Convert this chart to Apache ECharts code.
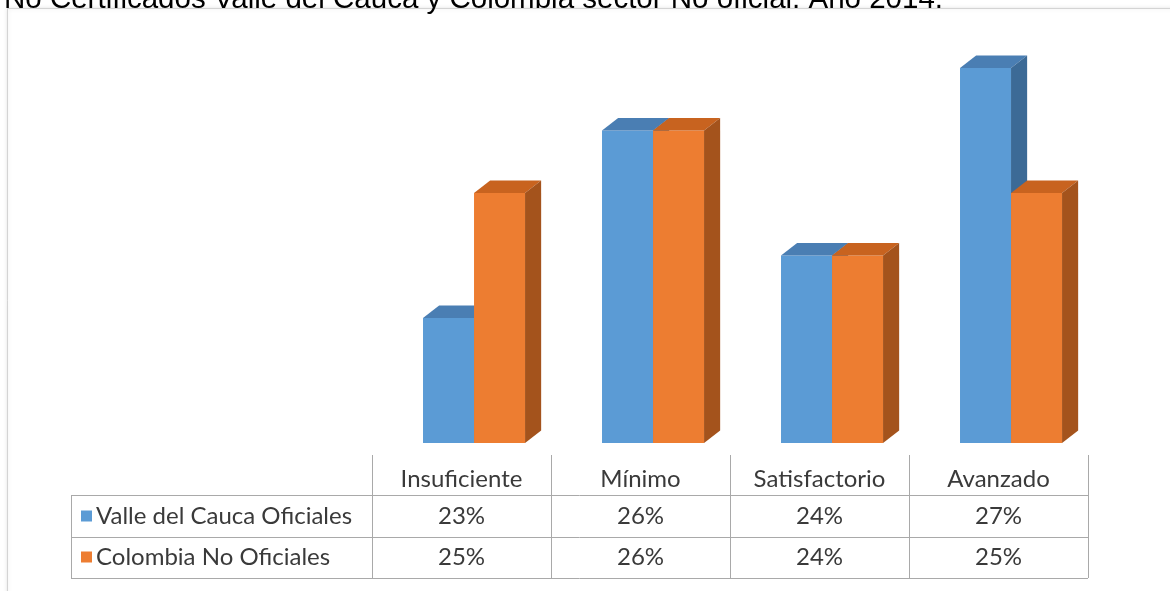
<!DOCTYPE html>
<html><head><meta charset="utf-8">
<script src="https://cdn.jsdelivr.net/npm/echarts@6/dist/echarts.min.js"></script>
<style>html,body{margin:0;padding:0;background:#fff;} #c{width:1170px;height:591px;}</style>
</head><body><div id="c"></div>
<script>
const titleText = 'No Certificados Valle del Cauca y Colombia sector No oficial. Año 2014.';
const categories = ['Insuficiente', 'Mínimo', 'Satisfactorio', 'Avanzado'];
const seriesNames = ['Valle del Cauca Oficiales', 'Colombia No Oficiales'];
const valleValues = [23, 26, 24, 27];
const colombiaValues = [25, 26, 24, 25];
const axisMin = 21, axisMax = 28;

const palette = [
  {front: '#5B9BD5', top: '#4A7EB3', side: '#3C6A96'},
  {front: '#ED7D31', top: '#C8631F', side: '#A4531C'}
];

function renderBar(seriesIdx) {
  return function (params, api) {
    const cat = api.value(0), val = api.value(1);
    const topPt = api.coord([cat, val]);
    const basePt = api.coord([cat, axisMin]);
    const band = api.size([1, 0])[0];
    const w = band * 0.285;
    const shift = band * 0.07;
    const dx = band * 0.09, dy = band * 0.07;
    const x0 = basePt[0] + shift + (seriesIdx === 0 ? -w : 0);
    const x1 = x0 + w;
    const yT = topPt[1], yB = basePt[1];
    const c = palette[seriesIdx];
    return {type: 'group', children: [
      {type: 'rect', shape: {x: x0, y: yT, width: w, height: yB - yT}, style: {fill: c.front}},
      {type: 'polygon', shape: {points: [[x0, yT], [x0 + dx, yT - dy], [x1 + dx, yT - dy], [x1, yT]]}, style: {fill: c.top}},
      {type: 'polygon', shape: {points: [[x1, yT], [x1 + dx, yT - dy], [x1 + dx, yB - dy], [x1, yB]]}, style: {fill: c.side}}
    ]};
  };
}

const chart = echarts.init(document.getElementById('c'), null, {renderer: 'canvas'});
const baseOption = {
  animation: false,
  backgroundColor: '#ffffff',
  grid: {left: 372, right: 82, top: 5.5, bottom: 148},
  xAxis: {type: 'category', data: categories, boundaryGap: true,
    axisLine: {show: false}, axisTick: {show: false}, axisLabel: {show: false}, splitLine: {show: false}},
  yAxis: {type: 'value', min: axisMin, max: axisMax, show: false, splitLine: {show: false}},
  series: [
    {type: 'custom', name: seriesNames[0], renderItem: renderBar(0), data: valleValues.map((v, i) => [i, v]), z: 3},
    {type: 'custom', name: seriesNames[1], renderItem: renderBar(1), data: colombiaValues.map((v, i) => [i, v]), z: 4}
  ]
};
chart.setOption(baseOption);

// table built from axis positions
const centers = categories.map((c, i) => chart.convertToPixel({xAxisIndex: 0}, i));
const band = centers.length > 1 ? centers[1] - centers[0] : 179;
const bounds = centers.map(c => c - band / 2).concat([centers[centers.length - 1] + band / 2]);
const tableLeft = 71;
const headerTop = 455, line1 = 495, line2 = 537, line3 = 578;
const headerY = 479, row1Y = 516, row2Y = 557;
const lineColor = '#a9a9a9';
const textColor = '#3a3a3a';
const tFont = 'Lato, "Open Sans", sans-serif';
const tSize = 24;
const fmt = v => v + '%';

const g = [];
g.push({type: 'rect', z: 0, shape: {x: 7.5, y: 8.5, width: 1300, height: 700},
  style: {fill: '#ffffff', stroke: '#d4d4d4', lineWidth: 1, shadowBlur: 4, shadowColor: 'rgba(0,0,0,0.12)'}});
g.push({type: 'text', z: 1, x: 4, y: 15, style: {text: titleText, font: '29.5px "Liberation Sans", Arial, sans-serif',
  fill: '#000000', verticalAlign: 'bottom', align: 'left'}});
const L = (x1, y1, x2, y2) => g.push({type: 'line', z: 5, shape: {x1, y1, x2, y2}, style: {stroke: lineColor, lineWidth: 1}});
const right = bounds[bounds.length - 1];
[line1, line2, line3].forEach(y => L(tableLeft, y + 0.5, right, y + 0.5));
L(tableLeft + 0.5, line1, tableLeft + 0.5, line3);
bounds.forEach(x => L(Math.round(x) + 0.5, headerTop, Math.round(x) + 0.5, line3));
const T = (text, x, y, align) => g.push({type: 'text', z: 6, x, y,
  style: {text, font: tSize + 'px ' + tFont, fill: textColor, align: align || 'center', verticalAlign: 'middle'}});
categories.forEach((c, i) => T(c, centers[i], headerY));
valleValues.forEach((v, i) => T(fmt(v), centers[i], row1Y));
colombiaValues.forEach((v, i) => T(fmt(v), centers[i], row2Y));
[[seriesNames[0], row1Y, palette[0].front], [seriesNames[1], row2Y, palette[1].front]].forEach(([n, y, col]) => {
  g.push({type: 'rect', z: 6, shape: {x: 81, y: y - 5.5, width: 11, height: 11}, style: {fill: col}});
  T(n, 96, y, 'left');
});
chart.setOption({graphic: g});
</script></body></html>
